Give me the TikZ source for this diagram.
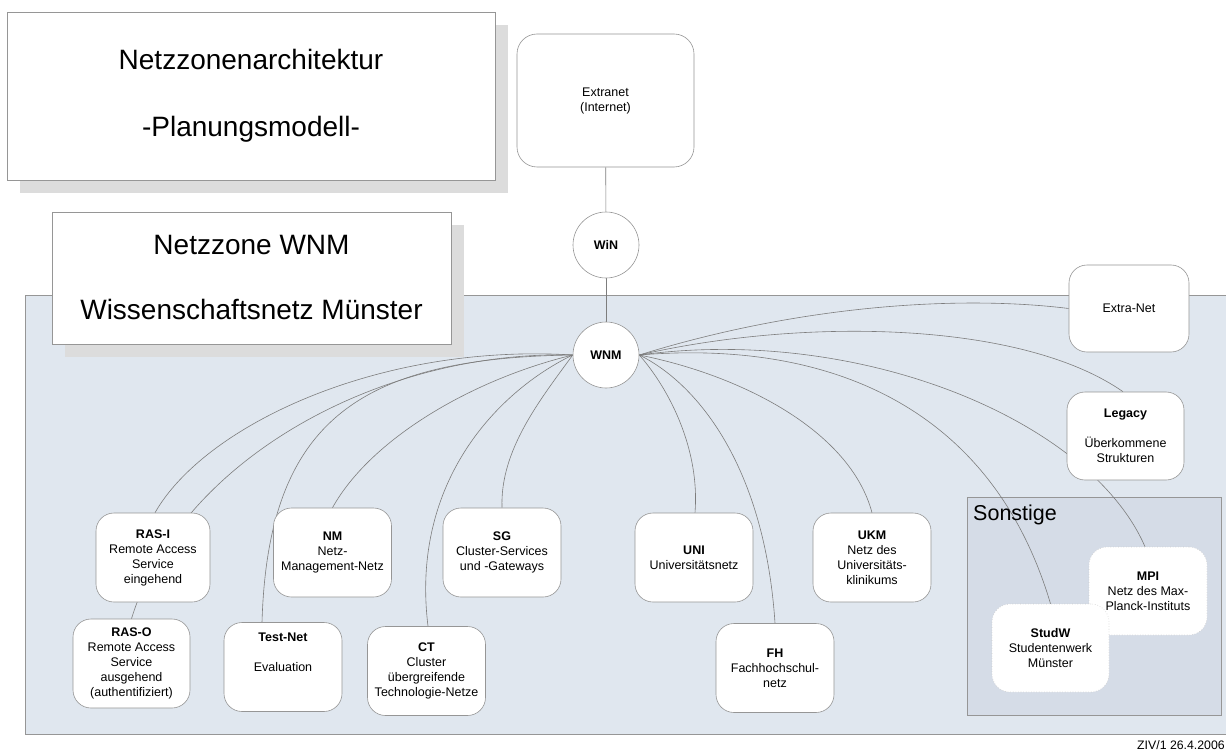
\documentclass[tikz,border=0pt]{standalone}
\usepackage{fontspec}
\setmainfont{Liberation Sans}
\usetikzlibrary{shadows}
\definecolor{zonefill}{RGB}{224,231,239}
\definecolor{sonstfill}{RGB}{213,220,231}
\definecolor{bordergray}{RGB}{150,150,150}
\definecolor{linegray}{RGB}{125,125,125}
\definecolor{shadowgray}{RGB}{220,220,220}
\pgfdeclarelayer{zonelayer}
\pgfdeclarelayer{linelayer}
\pgfsetlayers{zonelayer,linelayer,main}
\begin{document}
\begin{tikzpicture}[x=1pt,y=-1pt,
  nodebox/.style={draw=bordergray, fill=white, rounded corners=18pt, minimum width=118pt, minimum height=89pt, align=center, font=\fontsize{12.5}{15}\selectfont, inner sep=2pt, line width=0.6pt},
  softbox/.style={nodebox, draw=white!80!black, dotted},
  hub/.style={circle, draw=bordergray, fill=white, minimum size=66pt, inner sep=0pt, line width=0.6pt, font=\bfseries\fontsize{12.5}{15}\selectfont},
  titlebox/.style={draw=bordergray, fill=white, line width=0.6pt, align=center, font=\fontsize{28}{33}\selectfont, drop shadow={shadow xshift=13pt, shadow yshift=-13pt, fill=shadowgray, opacity=1}},
  link/.style={draw=linegray, line width=0.6pt}
]
\useasboundingbox (0,0) rectangle (1226,754);

% zone backgrounds
\begin{pgfonlayer}{zonelayer}
\fill[white] (0,0) rectangle (1226,754);
\draw[bordergray, fill=zonefill, line width=0.6pt] (25,295) rectangle (1245,734);
\draw[bordergray, fill=sonstfill, line width=0.6pt] (967,497) rectangle (1221,715);
\end{pgfonlayer}

% title boxes
\node[titlebox, minimum width=488pt, minimum height=168pt] (title1) at (251,96) {Netzzonenarchitektur\\[34pt]-Planungsmodell-};
\node[titlebox, minimum width=399pt, minimum height=132pt] (title2) at (251.5,278) {Netzzone WNM\\[32pt]Wissenschaftsnetz Münster};

% top
\node[nodebox, rounded corners=20pt, minimum width=177pt, minimum height=133pt] (internet) at (605.5,100.5) {Extranet\\(Internet)};
\node[hub] (win) at (606,245) {WiN};
\node[hub] (wnm) at (606,355) {WNM};

% nodes
\node[nodebox, minimum width=114pt] (rasi) at (153,557.5) {\textbf{RAS-I}\\Remote Access\\Service\\eingehend};
\node[nodebox, minimum width=117pt] (raso) at (131.5,663.5) {\textbf{RAS-O}\\Remote Access\\Service\\ausgehend\\(authentifiziert)};
\node[nodebox] (nm) at (332.5,552.5) {\textbf{NM}\\Netz-\\Management-Netz};
\node[nodebox] (sg) at (502,552.5) {\textbf{SG}\\Cluster-Services\\und -Gateways};
\node[nodebox] (testnet) at (283,667) {\textbf{Test-Net}\\[15pt]Evaluation\\[15pt]\mbox{}};
\node[nodebox] (ct) at (426.5,671) {\textbf{CT}\\Cluster\\übergreifende\\Technologie-Netze};
\node[nodebox] (uni) at (694,557.5) {\textbf{UNI}\\Universitätsnetz};
\node[nodebox] (ukm) at (872,557.5) {\textbf{UKM}\\Netz des\\Universitäts-\\klinikums};
\node[nodebox] (fh) at (775,668) {\textbf{FH}\\Fachhochschul-\\netz};
\node[nodebox, minimum width=120pt, minimum height=87pt] (extranet) at (1129,308.5) {Extra-Net};
\node[nodebox, minimum width=117pt, minimum height=88pt] (legacy) at (1125.5,436) {\textbf{Legacy}\\[15pt]Überkommene\\Strukturen};
\node[softbox, minimum height=88pt] (mpi) at (1148,591) {\textbf{MPI}\\Netz des Max-\\Planck-Instituts};
\node[softbox, minimum width=117pt, minimum height=88pt] (studw) at (1050.5,648) {\textbf{StudW}\\Studentenwerk\\Münster};

\node[anchor=west, inner sep=0pt, font=\fontsize{21.5}{25}\selectfont] (sonstige) at (973,515) {Sonstige};
\node[anchor=west, inner sep=0pt, font=\fontsize{12.3}{15}\selectfont] (ziv) at (1137,745) {ZIV/1 26.4.2006};

% connectors
\begin{pgfonlayer}{linelayer}
\draw[link] (internet) -- (win);
\draw[link] (win) -- (wnm);
% left
\draw[link] (wnm.west) .. controls (380,343) and (205,425) .. ([xshift=2pt]rasi.north);
\draw[link] (wnm.west) .. controls (380,350) and (180,460) .. (raso.north);
\draw[link] (wnm.west) .. controls (360,358) and (268,420) .. ([xshift=-21pt]testnet.north);
\draw[link] (wnm.west) .. controls (470,380) and (370,440) .. (nm.north);
\draw[link] (wnm.west) .. controls (500,390) and (410,480) .. ([xshift=1.5pt]ct.north);
\draw[link] (wnm.west) .. controls (540,400) and (500,450) .. (sg.north);
% right
\draw[link] (wnm.east) .. controls (800,305) and (960,295) .. (extranet.west);
\draw[link] (wnm.east) .. controls (800,318) and (1020,320) .. ([xshift=-2.5pt]legacy.north);
\draw[link] (wnm.east) .. controls (860,325) and (1090,420) .. ([xshift=-3pt]mpi.north);
\draw[link] (wnm.east) .. controls (820,340) and (990,400) .. (studw.north);
\draw[link] (wnm.east) .. controls (740,375) and (850,430) .. (ukm.north);
\draw[link] (wnm.east) .. controls (700,385) and (765,470) .. (fh.north);
\draw[link] (wnm.east) .. controls (670,390) and (700,450) .. ([xshift=1pt]uni.north);
\end{pgfonlayer}
\end{tikzpicture}
\end{document}
